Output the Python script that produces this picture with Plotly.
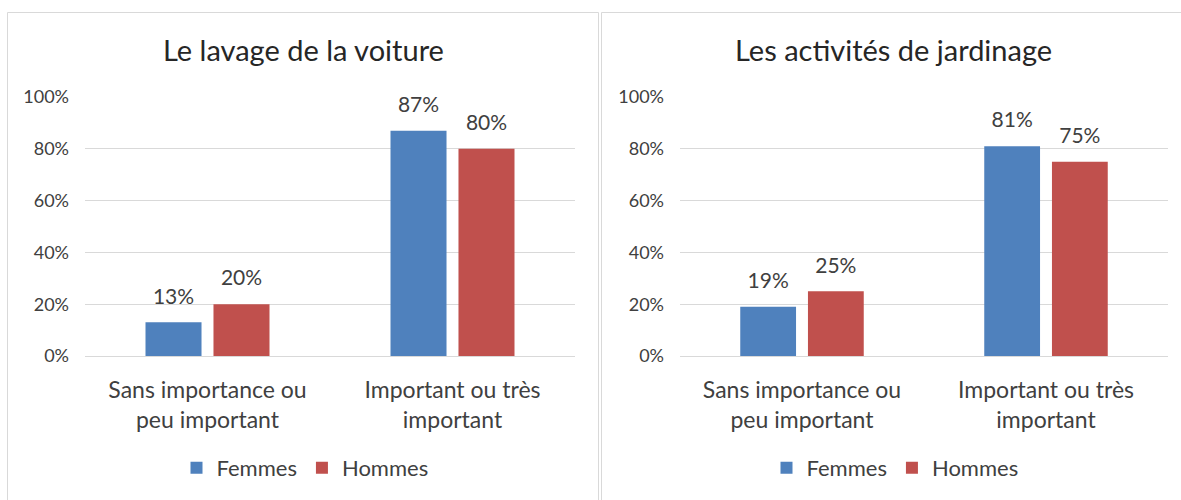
import plotly.graph_objects as go

W, H = 1181, 500

categories = ["Sans importance ou<br>peu important", "Important ou très<br>important"]
series_names = ["Femmes", "Hommes"]
colors = ["#4F81BD", "#C0504D"]

titles = ["Le lavage de la voiture", "Les activités de jardinage"]
voiture_femmes = [13, 87]
voiture_hommes = [20, 80]
jardin_femmes = [19, 81]
jardin_hommes = [25, 75]

tick_vals = [0, 20, 40, 60, 80, 100]
tick_text = ["0%", "20%", "40%", "60%", "80%", "100%"]

FONT = "Lato"
TXT = "#404040"
GAP = 0.445

def px(x):
    return x / W

def py(y):
    return 1 - y / H

fig = go.Figure()

panels = [
    (voiture_femmes, voiture_hommes, "x", "y", "legend"),
    (jardin_femmes, jardin_hommes, "x2", "y2", "legend2"),
]
for vals_f, vals_h, xa, ya, lg in panels:
    for name, vals, col in zip(series_names, [vals_f, vals_h], colors):
        fig.add_trace(go.Bar(
            x=categories, y=vals, name=name, marker=dict(color=col, line=dict(width=0)),
            offsetgroup=name, xaxis=xa, yaxis=ya, legend=lg, hoverinfo="skip",
        ))
    # value labels, grouped like the bars
    for name, vals in zip(series_names, [vals_f, vals_h]):
        fig.add_trace(go.Scatter(
            x=categories, y=vals, mode="markers+text", offsetgroup=name,
            marker=dict(size=20, opacity=0, color="white"),
            text=[f"{v}%" for v in vals], textposition="top center",
            textfont=dict(family=FONT, size=21, color=TXT),
            cliponaxis=False, xaxis=xa, yaxis=ya, showlegend=False, hoverinfo="skip",
        ))

ydom = [py(356), py(97)]
axis_common = dict(
    range=[0, 100], tickvals=tick_vals, ticktext=tick_text,
    showgrid=True, gridcolor="#D9D9D9", gridwidth=1, zeroline=False,
    showline=False, ticks="", tickfont=dict(family=FONT, size=18, color=TXT),
    fixedrange=True, ticklabelstandoff=15, automargin=False,
)
xcommon = dict(
    showline=True, linecolor="#D9D9D9", linewidth=1, ticks="",
    tickfont=dict(family=FONT, size=23, color=TXT), fixedrange=True,
    ticklabelstandoff=13, automargin=False,
)

fig.update_layout(
    width=W, height=H,
    margin=dict(l=0, r=0, t=0, b=0, pad=0, autoexpand=False),
    paper_bgcolor="white", plot_bgcolor="white",
    barmode="group", bargap=GAP, bargroupgap=0.176,
    scattermode="group", scattergap=GAP,
    xaxis=dict(domain=[px(85), px(575)], anchor="y", **xcommon),
    yaxis=dict(domain=ydom, anchor="x", **axis_common),
    xaxis2=dict(domain=[px(680), px(1168)], anchor="y2", **xcommon),
    yaxis2=dict(domain=ydom, anchor="x2", **axis_common),
    legend=dict(orientation="h", x=px(305), xanchor="center", y=py(468), yanchor="middle",
                font=dict(family=FONT, size=22, color=TXT), bgcolor="rgba(0,0,0,0)"),
    legend2=dict(orientation="h", x=px(895), xanchor="center", y=py(468), yanchor="middle",
                 font=dict(family=FONT, size=22, color=TXT), bgcolor="rgba(0,0,0,0)"),
    showlegend=True,
)

# panel borders
fig.add_shape(type="rect", xref="paper", yref="paper", x0=px(7.5), x1=px(598.5), y0=py(520), y1=py(12.5),
              line=dict(color="#D9D9D9", width=1), fillcolor="rgba(0,0,0,0)", layer="below")
fig.add_shape(type="rect", xref="paper", yref="paper", x0=px(601.5), x1=px(1200), y0=py(520), y1=py(12.5),
              line=dict(color="#D9D9D9", width=1), fillcolor="rgba(0,0,0,0)", layer="below")

# titles
for t, cx in zip(titles, [303, 893]):
    fig.add_annotation(text=t, xref="paper", yref="paper", x=px(cx), y=py(50),
                       xanchor="center", yanchor="middle", showarrow=False,
                       font=dict(family=FONT, size=29, color="#262626"))

post = (
    "document.documentElement.style.margin='0';"
    "document.body.style.margin='0';"
    "document.body.style.overflow='hidden';"
)
fig.write_html("out.html", config={"displayModeBar": False}, post_script=post)
